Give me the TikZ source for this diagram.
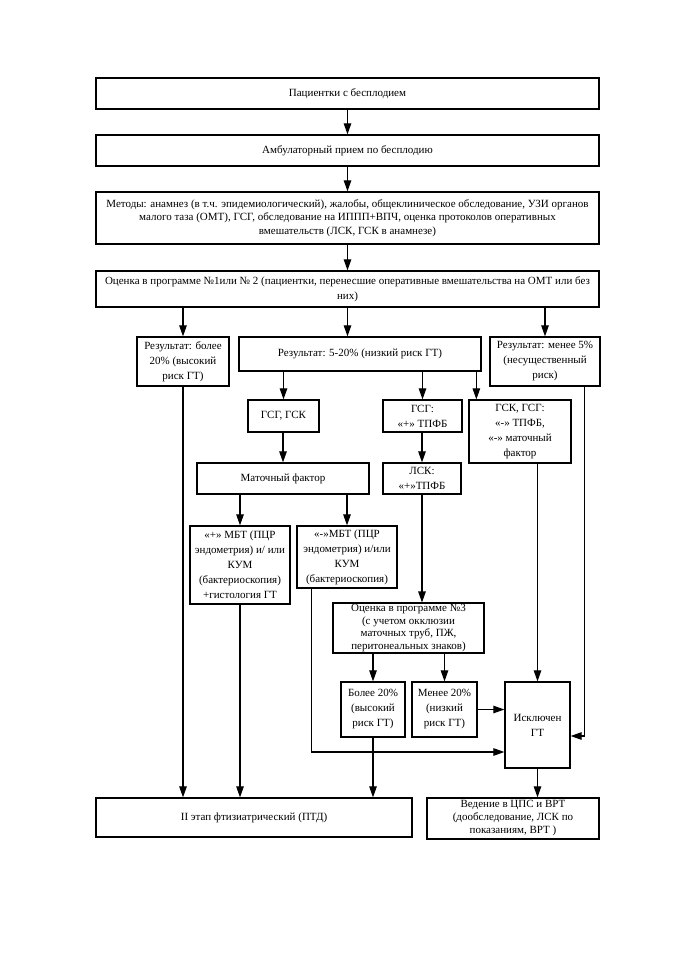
\documentclass[tikz,border=0pt]{standalone}
\usepackage{fontspec}
\setmainfont{Liberation Serif}
\usetikzlibrary{arrows.meta}
\begin{document}
\begin{tikzpicture}[x=1pt,y=-1pt,
  box/.style={draw, line width=1.3pt, align=center, inner sep=1pt, font=\fontsize{11}{15}\selectfont},
  arr/.style={line width=1.1pt, -{Triangle[length=11pt,width=7.5pt]}},
  ln/.style={line width=1.1pt}]
\fill[white] (0,0) rectangle (678,960);
\useasboundingbox (0,0) rectangle (678,960);
\node[box, minimum width=503, minimum height=31] (b1) at (347.5,93.5) {Пациентки с бесплодием};
\node[box, minimum width=503, minimum height=31] (b2) at (347.5,150.5) {Амбулаторный прием по бесплодию};
\node[box, minimum width=503, minimum height=52, font=\fontsize{11}{13.5}\selectfont] (b3) at (347.5,218) {Методы: анамнез (в т.ч. эпидемиологический), жалобы, общеклиническое обследование, УЗИ органов\\малого таза (ОМТ), ГСГ, обследование на ИППП+ВПЧ, оценка протоколов оперативных\\вмешательств (ЛСК, ГСК в анамнезе)};
\node[box, minimum width=503, minimum height=36] (b4) at (347.5,289) {Оценка в программе №1или № 2 (пациентки, перенесшие оперативные вмешательства на ОМТ или без\\них)};
\node[box, minimum width=92, minimum height=49] (A) at (183,361.5) {Результат: более\\20\% (высокий\\риск ГТ)};
\node[box, minimum width=242, minimum height=34] (B) at (360,354) {Результат: 5-20\% (низкий риск ГТ)};
\node[box, minimum width=110, minimum height=49] (C) at (545,361.5) {Результат: менее 5\%\\(несущественный\\риск)};
\node[box, minimum width=71, minimum height=32] (D) at (283.5,416) {ГСГ, ГСК};
\node[box, minimum width=79, minimum height=32] (E) at (422.5,416) {ГСГ:\\«+» ТПФБ};
\node[box, minimum width=102, minimum height=63] (F) at (520,431.5) {ГСК, ГСГ:\\«-» ТПФБ,\\«-» маточный\\фактор};
\node[box, minimum width=172, minimum height=31] (G) at (283,478.5) {Маточный фактор};
\node[box, minimum width=78, minimum height=31] (H) at (422,478.5) {ЛСК:\\«+»ТПФБ};
\node[box, minimum width=100, minimum height=78] (I) at (240,565) {«+» МБТ (ПЦР\\эндометрия) и/ или\\КУМ\\(бактериоскопия)\\+гистология ГТ};
\node[box, minimum width=100, minimum height=62] (J) at (347,557) {«-»МБТ (ПЦР\\эндометрия) и/или\\КУМ\\(бактериоскопия)};
\node[box, minimum width=151, minimum height=48, font=\fontsize{11}{12.7}\selectfont] (K) at (408.5,628) {Оценка в программе №3\\(с учетом окклюзии\\маточных труб, ПЖ,\\перитонеальных знаков)};
\node[box, minimum width=64, minimum height=55] (L) at (373,709.5) {Более 20\%\\(высокий\\риск ГТ)};
\node[box, minimum width=65, minimum height=55] (M) at (444.5,709.5) {Менее 20\%\\(низкий\\риск ГТ)};
\node[box, minimum width=65, minimum height=86] (N) at (537.5,725) {Исключен\\ГТ};
\node[box, minimum width=316, minimum height=39] (O) at (254,817.5) {II этап фтизиатрический (ПТД)};
\node[box, minimum width=172, minimum height=41, font=\fontsize{11}{13}\selectfont] (P) at (513,818.5) {Ведение в ЦПС и ВРТ\\(дообследование, ЛСК по\\показаниям, ВРТ )};
% connectors
\draw[arr] (b1) -- (b2);
\draw[arr] (b2) -- (b3);
\draw[arr] (b3) -- (b4);
\draw[arr] (b4.south -| A.north) -- (A.north);
\draw[arr] (b4.south) -- (b4.south |- B.north);
\draw[arr] (b4.south -| C.north) -- (C.north);
\draw[arr] (B.south -| D.north) -- (D.north);
\draw[arr] (B.south -| E.north) -- (E.north);
\draw[arr] ([xshift=8pt]F.north west |- B.south) -- ([xshift=8pt]F.north west);
\draw[arr] (D.south -| G.north) -- (G.north);
\draw[arr] (E.south -| H.north) -- (H.north);
\draw[arr] (G.south -| I.north) -- (I.north);
\draw[arr] (G.south -| J.north) -- (J.north);
\draw[arr] (H.south) -- (H.south |- K.north);
\draw[arr] (K.south -| L.north) -- (L.north);
\draw[arr] (K.south -| M.north) -- (M.north);
\draw[arr] (F.south -| N.north) -- (N.north);
\draw[arr] (M.east) -- (M.east -| N.west);
\draw[arr] ([xshift=-16pt]C.south east) |- ([yshift=-11pt]N.east);
\draw[arr] ([xshift=15pt]J.south west) |- ([yshift=-27pt]N.west);
\draw[arr] (A.south) -- (A.south |- O.north);
\draw[arr] (I.south) -- (I.south |- O.north);
\draw[arr] (L.south) -- (L.south |- O.north);
\draw[arr] (N.south) -- (N.south |- P.north);
\end{tikzpicture}
\end{document}
